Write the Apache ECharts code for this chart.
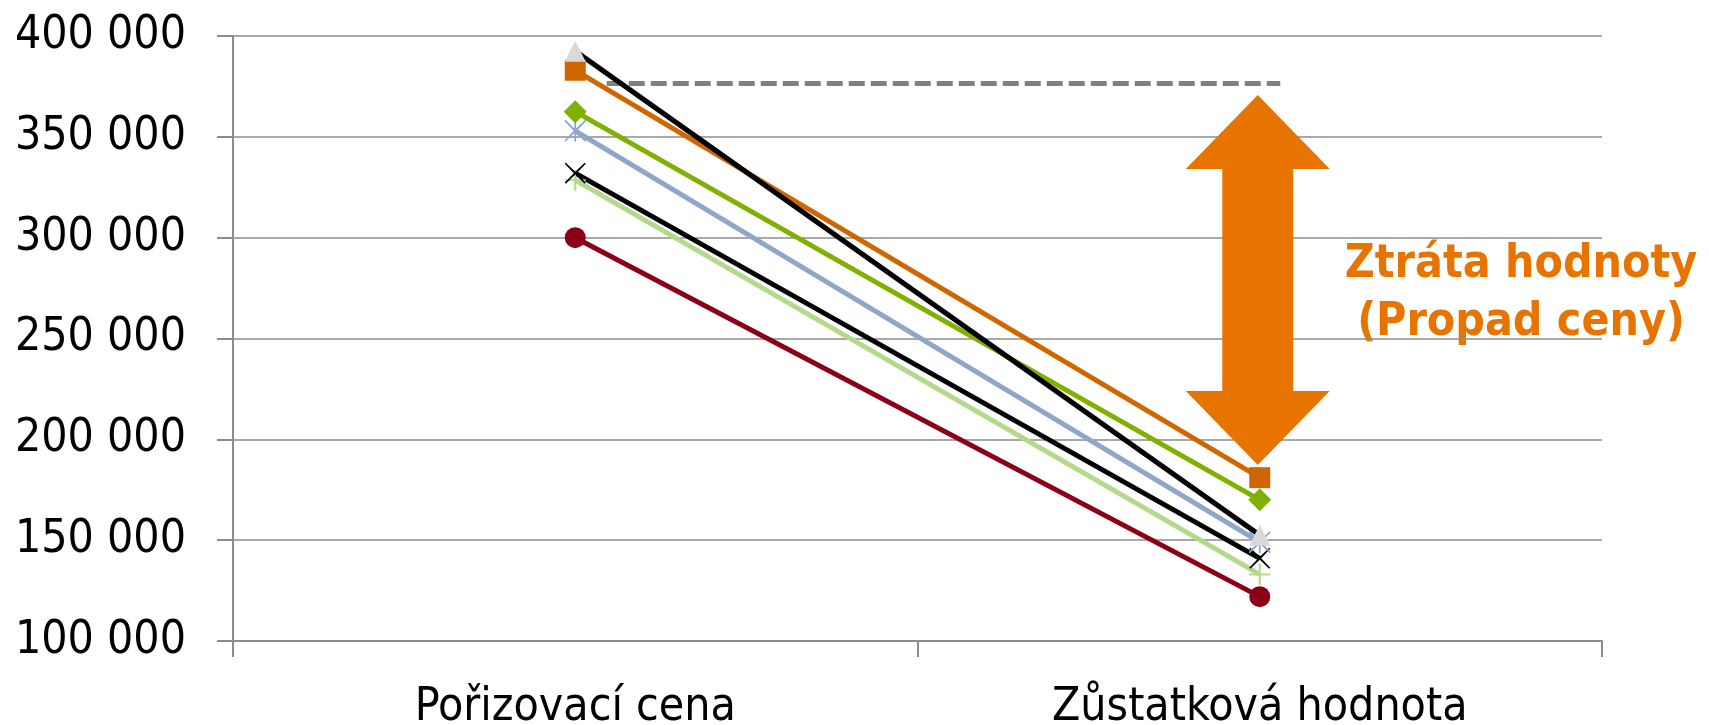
<!DOCTYPE html>
<html>
<head>
<meta charset="utf-8">
<script src="https://cdn.jsdelivr.net/npm/echarts@6/dist/echarts.min.js"></script>
<style>
  html, body { margin: 0; padding: 0; background: #fff; }
  #chart { width: 1709px; height: 725px; }
</style>
</head>
<body>
<div id="chart"></div>
<script>
// categories
const categories = ["Pořizovací cena", "Zůstatková hodnota"];

// series values [pořizovací, zůstatková]
const blackTriangle = [392500, 152500];
const orangeSquare = [383000, 181000];
const greenDiamond = [362500, 170000];
const blueStar = [353000, 149000];
const blackCross = [332000, 141000];
const lightGreenPlus = [328500, 133000];
const redCircle = [300000, 122000];

// annotation values
const dashedLevel = [[0.546, 376500], [1.53, 376500]];
const arrowRange = [[1, 370800, 187300]];
const lossText = ["Ztráta hodnoty", "(Propad ceny)"];

const FONT = "'DejaVu Sans Condensed', 'DejaVu Sans', sans-serif";

const crossPath = "path://M1,0 L10,8.6 L19,0 L20,1 L11.4,10 L20,19 L19,20 L10,11.4 L1,20 L0,19 L8.6,10 L0,1 Z";
const plusPath = "path://M9,0 L11,0 L11,9 L20,9 L20,11 L11,11 L11,20 L9,20 L9,11 L0,11 L0,9 L9,9 Z";
const starPath = crossPath + " M9.2,0 L10.8,0 L10.8,20 L9.2,20 Z";

function lineSeries(name, data, color, symbol, size, markerColor) {
  return {
    name: name,
    type: "line",
    data: data,
    symbol: symbol,
    symbolSize: size,
    showSymbol: true,
    lineStyle: { color: color, width: 5 },
    itemStyle: { color: markerColor || color, borderWidth: 0 },
    emphasis: { disabled: true },
  };
}

let myCharts = echarts.init(document.getElementById("chart"));

let option = {
  animation: false,
  grid: {
    left: 233,
    right: 107,
    top: 36,
    bottom: 84,
    containLabel: false,
    outerBoundsMode: "none",
  },
  xAxis: [
    {
      type: "category",
      data: categories,
      boundaryGap: true,
      axisLine: { lineStyle: { color: "#8c8c8c", width: 2 } },
      axisTick: { show: true, length: 16, interval: 0, lineStyle: { color: "#8c8c8c", width: 2 } },
      axisLabel: { color: "#000", fontSize: 46, fontFamily: FONT, margin: 44 },
      splitLine: { show: false },
    },
    {
      type: "value",
      min: 0,
      max: 2,
      show: false,
    },
  ],
  yAxis: {
    type: "value",
    min: 100000,
    max: 400000,
    interval: 50000,
    axisLine: { show: true, lineStyle: { color: "#8c8c8c", width: 2 } },
    axisTick: { show: true, length: 16, lineStyle: { color: "#8c8c8c", width: 2 } },
    axisLabel: {
      color: "#000",
      fontSize: 46,
      fontFamily: FONT,
      margin: 47,
      formatter: (v) => String(v).replace(/\B(?=(\d{3})+(?!\d))/g, " "),
    },
    splitLine: { lineStyle: { color: "#8c8c8c", width: 1.6 } },
  },
  series: [
    {
      name: "ztrata",
      type: "custom",
      xAxisIndex: 0,
      data: arrowRange,
      renderItem: (params, api) => {
        const top = api.coord([api.value(0), api.value(1)]);
        const bottom = api.coord([api.value(0), api.value(2)]);
        const cx = top[0] - 2;
        const head = 72, shaft = 35.5, headH = 74;
        return {
          type: "polygon",
          shape: {
            points: [
              [cx, top[1]],
              [cx + head, top[1] + headH],
              [cx + shaft, top[1] + headH],
              [cx + shaft, bottom[1] - headH],
              [cx + head, bottom[1] - headH],
              [cx, bottom[1]],
              [cx - head, bottom[1] - headH],
              [cx - shaft, bottom[1] - headH],
              [cx - shaft, top[1] + headH],
              [cx - head, top[1] + headH],
            ],
          },
          style: { fill: "#e87400" },
        };
      },
      z: 1,
    },
    {
      name: "uroven",
      type: "line",
      xAxisIndex: 1,
      data: dashedLevel,
      symbol: "none",
      lineStyle: { color: "#808080", width: 5, type: [16, 6] },
      z: 1,
    },
    lineSeries("red", redCircle, "#8b0016", "circle", 21),
    lineSeries("lightgreen", lightGreenPlus, "#b5d98a", plusPath, 21),
    lineSeries("blackx", blackCross, "#000000", crossPath, 21),
    lineSeries("blue", blueStar, "#8fa6c9", starPath, 22),
    lineSeries("green", greenDiamond, "#80b000", "diamond", 23),
    lineSeries("orange", orangeSquare, "#d06600", "rect", 21),
    lineSeries("black", blackTriangle, "#000000", "triangle", 21, "#d9d9d9"),
  ],
  graphic: [
    {
      type: "text",
      x: 1521,
      y: 288,
      style: {
        text: lossText[0],
        fill: "#e87400",
        font: "bold 46px 'DejaVu Sans Condensed', 'DejaVu Sans', sans-serif",
        textAlign: "center",
        textVerticalAlign: "bottom",
      },
    },
    {
      type: "text",
      x: 1521,
      y: 346,
      style: {
        text: lossText[1],
        fill: "#e87400",
        font: "bold 46px 'DejaVu Sans Condensed', 'DejaVu Sans', sans-serif",
        textAlign: "center",
        textVerticalAlign: "bottom",
      },
    },
  ],
};

myCharts.setOption(option);
</script>
</body>
</html>
